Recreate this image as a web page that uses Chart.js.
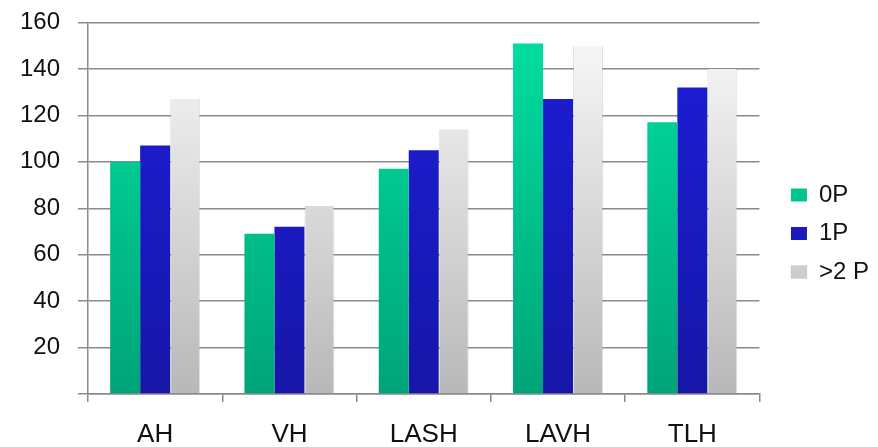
<!DOCTYPE html>
<html>
<head>
<meta charset="utf-8">
<script src="https://cdn.jsdelivr.net/npm/chart.js@4"></script>
<style>
  html, body { margin: 0; padding: 0; background: #fff; }
  #wrap { width: 878px; height: 447px; }
</style>
</head>
<body>
<div id="wrap"><canvas id="myChart"></canvas></div>
<script>
const categories = ["AH", "VH", "LASH", "LAVH", "TLH"];
const seriesNames = ["0P", "1P", ">2 P"];
const zeroP = [100, 69, 97, 151, 117];
const oneP = [107, 72, 105, 127, 132];
const twoP = [127, 81, 114, 150, 140];
const yTicks = [0, 20, 40, 60, 80, 100, 120, 140, 160];

const colors = {
  green: { top: "rgb(0, 224, 162)", bottom: "rgb(0, 164, 120)" },
  blue: { top: "rgb(30, 30, 218)", bottom: "rgb(22, 22, 168)" },
  grey: { top: "rgb(250, 250, 250)", bottom: "rgb(184, 184, 184)" }
};

function vGradient(c) {
  return function (context) {
    const chart = context.chart;
    const area = chart.chartArea;
    if (!area) return c.top;
    const g = chart.ctx.createLinearGradient(0, area.top, 0, area.bottom);
    g.addColorStop(0, c.top);
    g.addColorStop(1, c.bottom);
    return g;
  };
}

const gridColor = "#8a8a8a";
const family = "'Liberation Sans', Arial, sans-serif";

// move the legend block a little right and down, like the original
const legendNudge = {
  id: "legendNudge",
  afterLayout(chart) {
    const l = chart.legend;
    l.left += 17; l.right += 17;
    l.top += 10; l.bottom += 10;
  }
};

const data = {
  labels: categories,
  datasets: [
    { label: seriesNames[0], data: zeroP, backgroundColor: vGradient(colors.green) },
    { label: seriesNames[1], data: oneP, backgroundColor: vGradient(colors.blue) },
    {
      label: seriesNames[2], data: twoP, backgroundColor: vGradient(colors.grey),
      borderColor: "rgba(170, 170, 170, 0.35)", borderWidth: { left: 1, right: 1, top: 0, bottom: 0 }
    }
  ]
};

const config = {
  type: "bar",
  data: data,
  plugins: [legendNudge],
  options: {
    responsive: true,
    maintainAspectRatio: false,
    animation: false,
    datasets: {
      bar: { categoryPercentage: 0.67, barPercentage: 1.0, borderWidth: 0 }
    },
    layout: { padding: { left: 0, top: 0, right: 16, bottom: 0 } },
    plugins: {
      tooltip: { enabled: false },
      legend: {
        position: "right",
        labels: {
          color: "#111",
          font: { family: family, size: 24 },
          boxWidth: 16,
          boxHeight: 13,
          padding: 14.5
        }
      }
    },
    scales: {
      x: {
        offset: true,
        afterFit: (axis) => { axis.height = 53; },
        grid: {
          offset: true,
          drawOnChartArea: false,
          color: gridColor,
          lineWidth: 1.5,
          tickLength: 8
        },
        border: { color: gridColor, width: 1.5 },
        ticks: { color: "#111", font: { family: family, size: 26 }, padding: 17 }
      },
      y: {
        min: 0,
        max: 160,
        afterBuildTicks: (axis) => { axis.ticks = yTicks.map(v => ({ value: v })); },
        afterFit: (axis) => { axis.width = 88; axis.paddingTop = 22.5; axis.paddingBottom = 0; },
        grid: { color: gridColor, lineWidth: 1.5, tickLength: 10 },
        border: { color: gridColor, width: 1.5 },
        ticks: {
          color: "#111",
          font: { family: family, size: 24 },
          padding: 18,
          callback: (v) => (v === 0 ? "" : v)
        }
      }
    }
  }
};

new Chart(document.getElementById("myChart"), config);
</script>
</body>
</html>
